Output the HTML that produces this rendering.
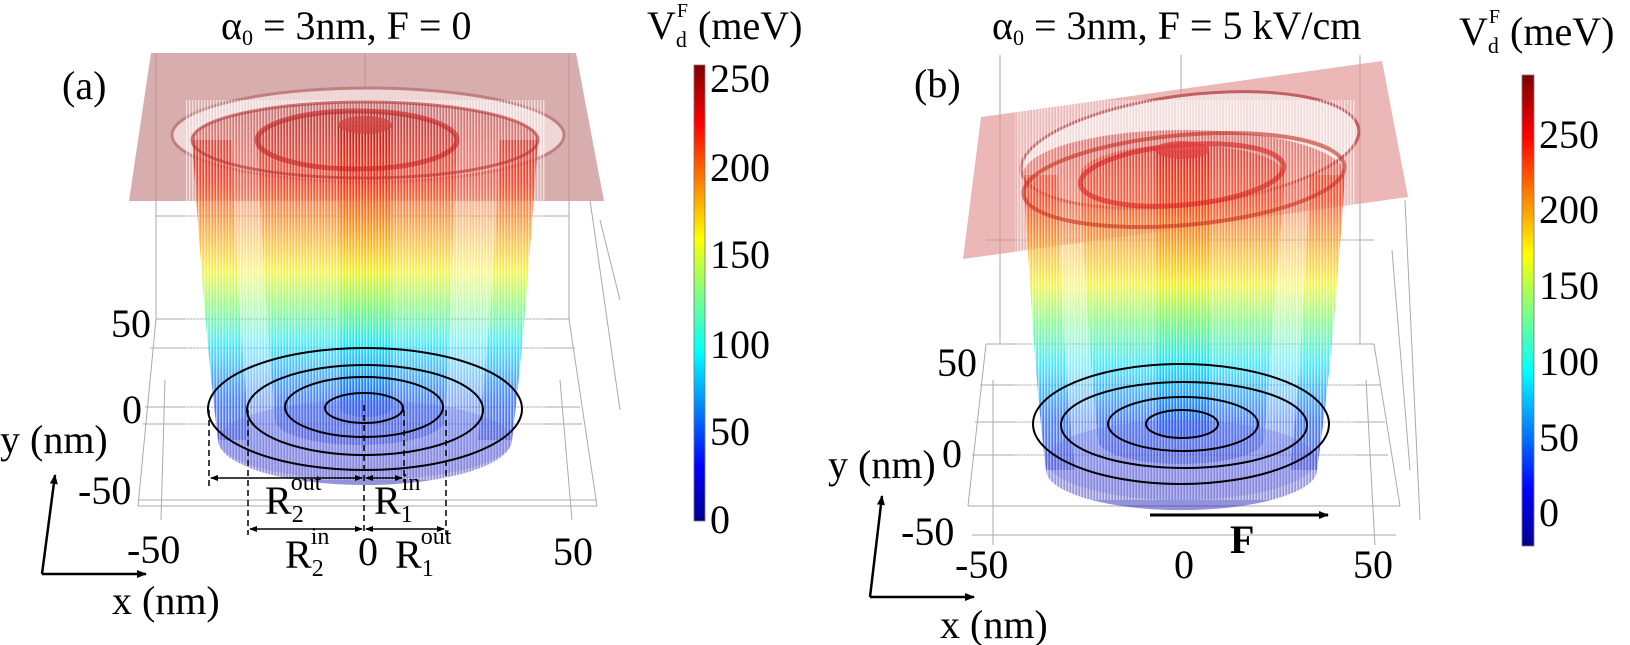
<!DOCTYPE html>
<html><head><meta charset="utf-8"><style>
html,body{margin:0;padding:0;background:#fff;}
svg{display:block;font-family:"Liberation Serif",serif;}
</style></head><body>
<svg width="1630" height="645" viewBox="0 0 1630 645" xmlns="http://www.w3.org/2000/svg">
<defs>
<linearGradient id="ja" gradientUnits="userSpaceOnUse" x1="0" y1="110" x2="0" y2="470">
<stop offset="0" stop-color="#a00000"/><stop offset="0.2" stop-color="#ff2000"/><stop offset="0.35" stop-color="#ff9a00"/><stop offset="0.45" stop-color="#f0f000"/><stop offset="0.55" stop-color="#60ff60"/><stop offset="0.65" stop-color="#00e0ff"/><stop offset="0.8" stop-color="#0050ff"/><stop offset="1" stop-color="#1010b0"/>
</linearGradient>
<linearGradient id="jb" gradientUnits="userSpaceOnUse" x1="0" y1="130" x2="0" y2="490">
<stop offset="0" stop-color="#c00000"/><stop offset="0.2" stop-color="#ff3000"/><stop offset="0.33" stop-color="#ffa000"/><stop offset="0.43" stop-color="#f0f000"/><stop offset="0.53" stop-color="#60ff60"/><stop offset="0.65" stop-color="#00e0ff"/><stop offset="0.8" stop-color="#0050ff"/><stop offset="1" stop-color="#1010b0"/>
</linearGradient>
<linearGradient id="cb" x1="0" y1="1" x2="0" y2="0">
<stop offset="0" stop-color="#00008f"/><stop offset="0.12" stop-color="#0000ff"/><stop offset="0.37" stop-color="#00ffff"/><stop offset="0.5" stop-color="#80ff80"/><stop offset="0.62" stop-color="#ffff00"/><stop offset="0.87" stop-color="#ff0000"/><stop offset="1" stop-color="#800000"/>
</linearGradient>
<pattern id="st" width="3" height="10" patternUnits="userSpaceOnUse"><rect width="1.4" height="10" fill="#fff" fill-opacity="0.6"/></pattern>
<marker id="ah" markerWidth="10" markerHeight="10" refX="9" refY="5" orient="auto" markerUnits="userSpaceOnUse"><path d="M0,1 L10,5 L0,9 z" fill="#000"/></marker>
<marker id="as" markerWidth="8" markerHeight="8" refX="7" refY="4" orient="auto-start-reverse" markerUnits="userSpaceOnUse"><path d="M0,1 L8,4 L0,7 z" fill="#000"/></marker>
</defs>

<!-- ===== Panel (a) ===== -->
<g stroke="#aaa" stroke-width="1" fill="none">
<line x1="156" y1="53" x2="156" y2="319"/><line x1="365" y1="53" x2="365" y2="319"/><line x1="569" y1="53" x2="569" y2="319"/>
<line x1="156" y1="216" x2="569" y2="216"/>
<line x1="156" y1="319" x2="569" y2="319"/><line x1="150" y1="348" x2="575" y2="348"/>
<line x1="145" y1="407" x2="580" y2="407"/><line x1="143" y1="424" x2="582" y2="424"/>
<line x1="138" y1="500" x2="597" y2="500"/><line x1="138" y1="506" x2="597" y2="506"/>
<line x1="156" y1="319" x2="138" y2="506"/><line x1="569" y1="319" x2="597" y2="506"/>
<line x1="165" y1="380" x2="161" y2="520"/><line x1="560" y1="380" x2="572" y2="520"/>
<line x1="590" y1="200" x2="620" y2="410"/><line x1="600" y1="220" x2="620" y2="300"/>
</g>
<polygon points="151,53 576,53 604,201 129,201" fill="#c88a8a" fill-opacity="0.7"/>
<ellipse cx="368" cy="135" rx="196" ry="47" fill="#efd6d6"/>
<ellipse cx="368" cy="135" rx="196" ry="47" fill="none" stroke="#c08080" stroke-width="3"/>
<path d="M192,140 C200,250 205,330 218,440 A147,45 0 0 0 512,440 C525,330 530,250 538,140 A173,38 0 0 0 192,140 Z" fill="url(#ja)" fill-opacity="0.45"/>
<path d="M192,140 C200,250 205,330 218,440 L250,440 C240,330 235,250 232,140 Z" fill="url(#ja)" fill-opacity="0.45"/>
<path d="M538,140 C530,250 525,330 512,440 L478,440 C490,330 495,250 500,140 Z" fill="url(#ja)" fill-opacity="0.45"/>
<path d="M257,140 C262,250 268,330 275,420 A85,25 0 0 0 445,420 C450,330 452,250 457,140 A100,29 0 0 0 257,140 Z" fill="url(#ja)" fill-opacity="0.45"/>
<path d="M338,125 L340,408 A26,9 0 0 0 392,408 L392,125 Z" fill="url(#ja)" fill-opacity="0.6"/>
<rect x="185" y="100" width="360" height="380" fill="url(#st)"/>
<ellipse cx="365" cy="140" rx="173" ry="38" fill="none" stroke="#b03030" stroke-width="3" stroke-opacity="0.6"/>
<ellipse cx="357" cy="140" rx="100" ry="29" fill="none" stroke="#c02020" stroke-width="5" stroke-opacity="0.6"/>
<ellipse cx="365" cy="125" rx="27" ry="9" fill="#d04040" fill-opacity="0.75"/>
<ellipse cx="365" cy="440" rx="147" ry="40" fill="#7070e0" fill-opacity="0.3"/>
<g fill="none" stroke="#000" stroke-width="2">
<ellipse cx="365" cy="409" rx="157" ry="61"/><ellipse cx="365" cy="410" rx="118" ry="45"/>
<ellipse cx="364" cy="407" rx="79" ry="30"/><ellipse cx="364" cy="408" rx="39" ry="15"/>
</g>
<g stroke="#000" stroke-width="1.5" stroke-dasharray="6,4" fill="none">
<line x1="209" y1="410" x2="209" y2="490"/><line x1="248" y1="410" x2="248" y2="535"/>
<line x1="364" y1="405" x2="364" y2="535"/><line x1="404" y1="410" x2="404" y2="482"/><line x1="446" y1="410" x2="446" y2="535"/>
</g>
<g stroke="#000" stroke-width="1.5">
<line x1="211" y1="478" x2="362" y2="478" marker-start="url(#as)" marker-end="url(#as)"/>
<line x1="366" y1="478" x2="402" y2="478" marker-start="url(#as)" marker-end="url(#as)"/>
<line x1="250" y1="529" x2="362" y2="529" marker-start="url(#as)" marker-end="url(#as)"/>
<line x1="366" y1="529" x2="444" y2="529" marker-start="url(#as)" marker-end="url(#as)"/>
</g>
<g font-size="40">
<text x="265" y="514">R<tspan font-size="24" dy="8">2</tspan><tspan font-size="24" dx="-13" dy="-32">out</tspan></text>
<text x="374" y="514">R<tspan font-size="24" dy="8">1</tspan><tspan font-size="24" dx="-11" dy="-32">in</tspan></text>
<text x="285" y="568">R<tspan font-size="24" dy="8">2</tspan><tspan font-size="24" dx="-13" dy="-32">in</tspan></text>
<text x="395" y="568">R<tspan font-size="24" dy="8">1</tspan><tspan font-size="24" dx="-13" dy="-32">out</tspan></text>
<text x="111" y="337">50</text><text x="122" y="423">0</text><text x="78" y="504">-50</text>
<text x="127" y="563">-50</text><text x="358" y="565">0</text><text x="553" y="565">50</text>
<text x="0" y="453">y (nm)</text><text x="112" y="614">x (nm)</text>
<text x="62" y="99">(a)</text>
</g>
<text x="221" y="39" font-size="40">α<tspan font-size="22" dy="6">0</tspan><tspan dy="-6"> = 3nm, F = 0</tspan></text>
<text x="647" y="39" font-size="40">V<tspan font-size="22" dy="8">d</tspan><tspan font-size="20" dx="-10" dy="-30">F</tspan><tspan dy="22"> (meV)</tspan></text>
<line x1="42" y1="574" x2="55" y2="475" stroke="#000" stroke-width="2.5" marker-end="url(#ah)"/>
<line x1="42" y1="574" x2="146" y2="574" stroke="#000" stroke-width="2.5" marker-end="url(#ah)"/>
<rect x="694" y="65" width="11" height="456" fill="url(#cb)" stroke="#777" stroke-width="0.8"/>
<g font-size="40"><text x="710" y="92">250</text><text x="710" y="181">200</text><text x="710" y="268">150</text><text x="710" y="358">100</text><text x="710" y="445">50</text><text x="710" y="533">0</text></g>

<!-- ===== Panel (b) ===== -->
<g stroke="#aaa" stroke-width="1" fill="none">
<line x1="1000" y1="55" x2="1000" y2="344"/><line x1="1181" y1="55" x2="1181" y2="344"/><line x1="1360" y1="55" x2="1360" y2="344"/>
<line x1="986" y1="240" x2="1374" y2="240"/>
<line x1="986" y1="344" x2="1374" y2="344"/><line x1="980" y1="385" x2="1380" y2="385"/>
<line x1="975" y1="422" x2="1385" y2="422"/><line x1="972" y1="455" x2="1388" y2="455"/>
<line x1="968" y1="506" x2="1400" y2="506"/><line x1="972" y1="535" x2="1396" y2="535"/>
<line x1="986" y1="344" x2="968" y2="506"/><line x1="1374" y1="344" x2="1400" y2="506"/>
<line x1="993" y1="380" x2="993" y2="545"/><line x1="1366" y1="380" x2="1375" y2="545"/>
<line x1="1405" y1="200" x2="1420" y2="520"/><line x1="1392" y1="250" x2="1410" y2="470"/>
</g>
<polygon points="981,117 1382,61 1408,197 963,259" fill="#e09090" fill-opacity="0.65"/>
<ellipse cx="1190" cy="150" rx="170" ry="55" fill="#f2dcdc" transform="rotate(-7 1190 150)"/>
<ellipse cx="1190" cy="150" rx="170" ry="55" fill="none" stroke="#c06060" stroke-width="3" transform="rotate(-7 1190 150)"/>
<path d="M1023,175 C1030,280 1035,380 1046,470 A135,40 0 0 0 1317,470 C1330,380 1338,280 1345,175 A161,45 0 0 0 1023,175 Z" fill="url(#jb)" fill-opacity="0.45"/>
<path d="M1023,175 C1030,280 1035,380 1046,470 L1075,470 C1065,380 1060,280 1058,175 Z" fill="url(#jb)" fill-opacity="0.45"/>
<path d="M1345,175 C1338,280 1330,380 1317,470 L1290,470 C1300,380 1305,280 1310,175 Z" fill="url(#jb)" fill-opacity="0.45"/>
<path d="M1080,175 C1085,280 1090,360 1098,440 A83,24 0 0 0 1264,440 C1270,360 1276,280 1285,175 A102,30 0 0 0 1080,175 Z" fill="url(#jb)" fill-opacity="0.45"/>
<path d="M1155,150 L1157,430 A26,9 0 0 0 1209,430 L1210,150 Z" fill="url(#jb)" fill-opacity="0.6"/>
<rect x="1015" y="100" width="340" height="400" fill="url(#st)"/>
<ellipse cx="1184" cy="180" rx="161" ry="45" fill="none" stroke="#c03020" stroke-width="4" stroke-opacity="0.6" transform="rotate(-5 1184 180)"/>
<ellipse cx="1182" cy="175" rx="102" ry="30" fill="none" stroke="#d02020" stroke-width="5" stroke-opacity="0.6" transform="rotate(-5 1182 175)"/>
<ellipse cx="1182" cy="150" rx="27" ry="9" fill="#e04040" fill-opacity="0.75"/>
<ellipse cx="1181" cy="460" rx="135" ry="40" fill="#7070e0" fill-opacity="0.3"/>
<g fill="none" stroke="#000" stroke-width="2">
<ellipse cx="1181" cy="424" rx="148" ry="60"/><ellipse cx="1184" cy="425" rx="123" ry="43"/>
<ellipse cx="1183" cy="424" rx="75" ry="27"/><ellipse cx="1182" cy="424" rx="36" ry="14"/>
</g>
<line x1="1150" y1="515" x2="1328" y2="515" stroke="#000" stroke-width="3" marker-end="url(#ah)"/>
<text x="1230" y="553" font-size="40" font-weight="bold">F</text>
<g font-size="40">
<text x="937" y="376">50</text><text x="942" y="467">0</text><text x="901" y="545">-50</text>
<text x="955" y="578">-50</text><text x="1174" y="578">0</text><text x="1353" y="578">50</text>
<text x="828" y="478">y (nm)</text><text x="940" y="638">x (nm)</text>
<text x="914" y="97">(b)</text>
</g>
<text x="992" y="39" font-size="40">α<tspan font-size="22" dy="6">0</tspan><tspan dy="-6"> = 3nm, F = 5 kV/cm</tspan></text>
<text x="1459" y="45" font-size="40">V<tspan font-size="22" dy="8">d</tspan><tspan font-size="20" dx="-10" dy="-30">F</tspan><tspan dy="22"> (meV)</tspan></text>
<line x1="870" y1="597" x2="882" y2="496" stroke="#000" stroke-width="2.5" marker-end="url(#ah)"/>
<line x1="870" y1="597" x2="974" y2="597" stroke="#000" stroke-width="2.5" marker-end="url(#ah)"/>
<rect x="1522" y="75" width="12" height="471" fill="url(#cb)" stroke="#777" stroke-width="0.8"/>
<g font-size="40"><text x="1539" y="148">250</text><text x="1539" y="223">200</text><text x="1539" y="299">150</text><text x="1539" y="375">100</text><text x="1539" y="451">50</text><text x="1539" y="526">0</text></g>
</svg>
</body></html>
